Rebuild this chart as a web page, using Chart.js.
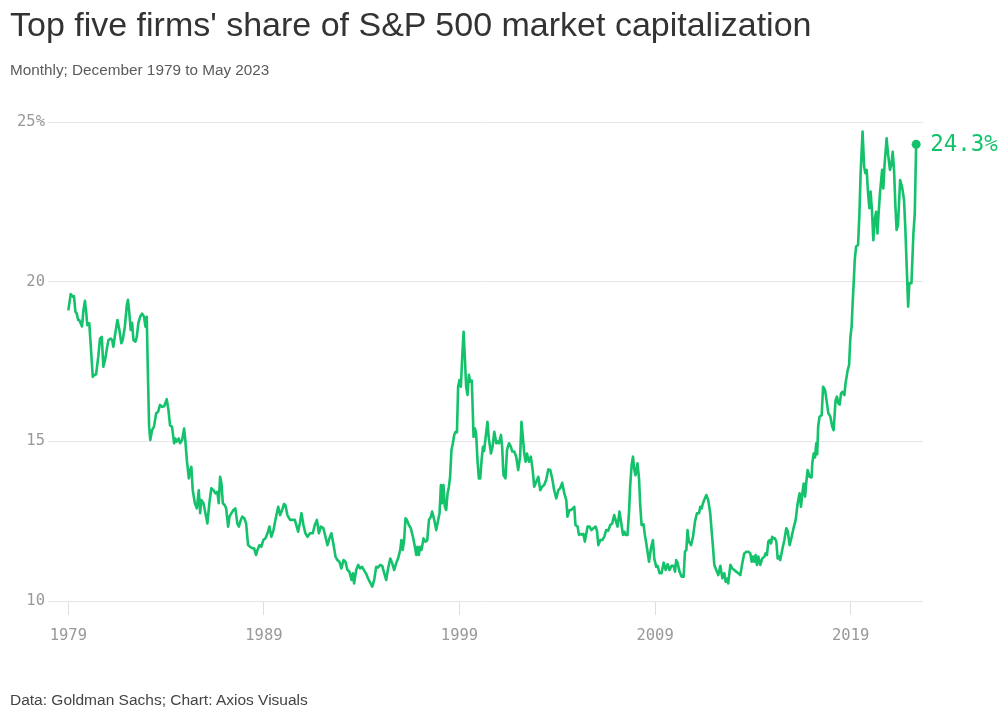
<!DOCTYPE html>
<html>
<head>
<meta charset="utf-8">
<script src="https://cdn.jsdelivr.net/npm/chart.js@4"></script>
<style>
  html, body { margin: 0; padding: 0; background: #fff; }
  #page { position: relative; width: 1003px; height: 716px; overflow: hidden; }
  #wrap { position: absolute; left: 0; top: 0; width: 1003px; height: 716px; }
  .txt { position: absolute; left: 10px; font-family: "Liberation Sans", Arial, sans-serif; white-space: nowrap; }
  #title { top: 5px; font-size: 34px; color: #333; letter-spacing: 0; }
  #subtitle { top: 61px; font-size: 15.3px; color: #5a5a5a; }
  #source { top: 691px; font-size: 15.5px; color: #444; }
</style>
</head>
<body>
<div id="page">
  <div id="wrap"><canvas id="chart"></canvas></div>
  <div class="txt" id="title">Top five firms' share of S&amp;P 500 market capitalization</div>
  <div class="txt" id="subtitle">Monthly; December 1979 to May 2023</div>
  <div class="txt" id="source">Data: Goldman Sachs; Chart: Axios Visuals</div>
</div>
<script>
// decimal year of each reading
const years = [
  1979.92, 1980.04, 1980.15, 1980.21, 1980.28, 1980.35, 1980.42, 1980.48, 1980.55, 1980.62,
  1980.69, 1980.77, 1980.83, 1980.89, 1980.99, 1981.07, 1981.17, 1981.23, 1981.34, 1981.45,
  1981.54, 1981.63, 1981.71, 1981.80, 1981.88, 1981.97, 1982.09, 1982.16, 1982.22, 1982.32,
  1982.43, 1982.53, 1982.63, 1982.70, 1982.81, 1982.91, 1982.97, 1983.04, 1983.11, 1983.18,
  1983.25, 1983.35, 1983.42, 1983.50, 1983.59, 1983.69, 1983.79, 1983.86, 1983.93, 1983.98,
  1984.05, 1984.11, 1984.20, 1984.30, 1984.41, 1984.51, 1984.61, 1984.71, 1984.82, 1984.95,
  1985.04, 1985.12, 1985.22, 1985.33, 1985.39, 1985.46, 1985.57, 1985.63, 1985.74, 1985.84,
  1985.90, 1985.98, 1986.08, 1986.15, 1986.21, 1986.28, 1986.39, 1986.49, 1986.59, 1986.66,
  1986.72, 1986.83, 1986.93, 1987.03, 1987.13, 1987.23, 1987.34, 1987.44, 1987.54, 1987.61,
  1987.68, 1987.75, 1987.82, 1987.92, 1987.99, 1988.09, 1988.16, 1988.26, 1988.36, 1988.46,
  1988.56, 1988.64, 1988.74, 1988.81, 1988.91, 1989.01, 1989.11, 1989.21, 1989.32, 1989.42,
  1989.52, 1989.59, 1989.69, 1989.79, 1989.89, 1990.00, 1990.13, 1990.20, 1990.30, 1990.41,
  1990.54, 1990.65, 1990.75, 1990.85, 1990.95, 1991.02, 1991.12, 1991.26, 1991.36, 1991.50,
  1991.67, 1991.77, 1991.84, 1991.94, 1992.04, 1992.15, 1992.28, 1992.42, 1992.52, 1992.63,
  1992.73, 1992.83, 1992.96, 1993.07, 1993.17, 1993.27, 1993.37, 1993.47, 1993.58, 1993.68,
  1993.78, 1993.88, 1993.99, 1994.09, 1994.19, 1994.29, 1994.40, 1994.47, 1994.53, 1994.64,
  1994.74, 1994.84, 1994.94, 1995.05, 1995.15, 1995.25, 1995.35, 1995.46, 1995.56, 1995.66,
  1995.76, 1995.86, 1995.97, 1996.07, 1996.17, 1996.27, 1996.38, 1996.48, 1996.58, 1996.68,
  1996.78, 1996.89, 1996.95, 1997.02, 1997.09, 1997.16, 1997.23, 1997.33, 1997.43, 1997.54,
  1997.64, 1997.71, 1997.77, 1997.84, 1997.91, 1997.98, 1998.08, 1998.18, 1998.27, 1998.36,
  1998.46, 1998.52, 1998.63, 1998.73, 1998.83, 1998.90, 1998.97, 1999.04, 1999.10, 1999.17,
  1999.24, 1999.31, 1999.38, 1999.44, 1999.51, 1999.58, 1999.65, 1999.72, 1999.79, 1999.85,
  1999.92, 1999.99, 2000.06, 2000.13, 2000.20, 2000.26, 2000.33, 2000.40, 2000.47, 2000.55,
  2000.64, 2000.71, 2000.77, 2000.84, 2000.91, 2000.98, 2001.05, 2001.12, 2001.18, 2001.25,
  2001.35, 2001.42, 2001.53, 2001.61, 2001.70, 2001.80, 2001.86, 2001.94, 2002.04, 2002.10,
  2002.17, 2002.27, 2002.35, 2002.45, 2002.55, 2002.62, 2002.72, 2002.82, 2002.92, 2003.02,
  2003.09, 2003.16, 2003.23, 2003.30, 2003.37, 2003.47, 2003.57, 2003.67, 2003.74, 2003.84,
  2003.95, 2004.05, 2004.15, 2004.25, 2004.35, 2004.46, 2004.56, 2004.66, 2004.76, 2004.87,
  2004.97, 2005.07, 2005.17, 2005.28, 2005.38, 2005.44, 2005.55, 2005.63, 2005.72, 2005.79,
  2005.85, 2005.96, 2006.03, 2006.13, 2006.20, 2006.26, 2006.33, 2006.40, 2006.47, 2006.57,
  2006.67, 2006.77, 2006.88, 2006.95, 2007.02, 2007.12, 2007.22, 2007.32, 2007.42, 2007.52,
  2007.63, 2007.73, 2007.83, 2007.93, 2008.00, 2008.10, 2008.18, 2008.28, 2008.35, 2008.41,
  2008.51, 2008.59, 2008.65, 2008.72, 2008.79, 2008.86, 2008.92, 2009.02, 2009.10, 2009.16,
  2009.23, 2009.33, 2009.40, 2009.51, 2009.61, 2009.71, 2009.81, 2009.88, 2009.98, 2010.05,
  2010.15, 2010.25, 2010.36, 2010.46, 2010.56, 2010.66, 2010.76, 2010.87, 2010.94, 2011.00,
  2011.07, 2011.17, 2011.28, 2011.38, 2011.45, 2011.52, 2011.58, 2011.65, 2011.76, 2011.86,
  2011.96, 2012.06, 2012.17, 2012.23, 2012.30, 2012.37, 2012.47, 2012.54, 2012.64, 2012.74,
  2012.81, 2012.88, 2012.95, 2013.05, 2013.15, 2013.26, 2013.36, 2013.46, 2013.53, 2013.60,
  2013.66, 2013.77, 2013.87, 2013.97, 2014.07, 2014.18, 2014.28, 2014.38, 2014.48, 2014.59,
  2014.69, 2014.79, 2014.86, 2014.92, 2014.99, 2015.06, 2015.13, 2015.20, 2015.30, 2015.40,
  2015.51, 2015.57, 2015.64, 2015.71, 2015.78, 2015.85, 2015.91, 2015.98, 2016.05, 2016.12,
  2016.19, 2016.26, 2016.32, 2016.42, 2016.53, 2016.63, 2016.70, 2016.80, 2016.90, 2017.00,
  2017.11, 2017.21, 2017.31, 2017.38, 2017.45, 2017.52, 2017.59, 2017.65, 2017.72, 2017.82,
  2017.92, 2017.96, 2018.03, 2018.10, 2018.16, 2018.21, 2018.26, 2018.33, 2018.44, 2018.51,
  2018.61, 2018.71, 2018.78, 2018.88, 2018.98, 2019.05, 2019.15, 2019.22, 2019.29, 2019.36,
  2019.43, 2019.50, 2019.60, 2019.66, 2019.77, 2019.84, 2019.91, 2019.97, 2020.02, 2020.08,
  2020.13, 2020.20, 2020.30, 2020.37, 2020.43, 2020.53, 2020.61, 2020.67, 2020.74, 2020.81,
  2020.88, 2020.94, 2021.01, 2021.08, 2021.15, 2021.22, 2021.29, 2021.35, 2021.42, 2021.53,
  2021.59, 2021.66, 2021.76, 2021.83, 2021.93, 2022.00, 2022.07, 2022.14, 2022.21, 2022.27,
  2022.34, 2022.45, 2022.55, 2022.65, 2022.72, 2022.78, 2022.86, 2022.92, 2023.03, 2023.13,
  2023.20, 2023.27
];

// top five share of market cap, percent
const share = [
  19.10, 19.61, 19.53, 19.55, 19.06, 19.00, 18.80, 18.80, 18.70, 18.60,
  19.10, 19.40, 19.06, 18.64, 18.70, 17.96, 17.02, 17.07, 17.10, 17.65,
  18.22, 18.27, 17.34, 17.55, 17.86, 18.17, 18.22, 18.17, 17.96, 18.38,
  18.80, 18.49, 18.07, 18.17, 18.59, 19.27, 19.43, 19.00, 18.49, 18.71,
  18.17, 18.12, 18.27, 18.70, 18.90, 19.00, 18.90, 18.59, 18.90, 17.34,
  15.46, 15.04, 15.35, 15.46, 15.88, 15.93, 16.14, 16.08, 16.10, 16.32,
  15.98, 15.50, 15.46, 14.94, 15.09, 14.99, 15.09, 14.94, 15.04, 15.40,
  15.04, 14.41, 13.84, 14.10, 14.20, 13.47, 13.06, 12.90, 13.47, 12.75,
  13.16, 13.06, 12.75, 12.43, 13.06, 13.53, 13.47, 13.37, 13.42, 13.06,
  13.89, 13.68, 13.06, 13.00, 12.90, 12.33, 12.64, 12.75, 12.85, 12.90,
  12.43, 12.33, 12.54, 12.64, 12.60, 12.43, 11.75, 11.70, 11.65, 11.65,
  11.44, 11.60, 11.75, 11.70, 11.91, 11.96, 12.17, 12.33, 12.01, 12.22,
  12.64, 12.95, 12.69, 12.85, 13.04, 13.00, 12.69, 12.54, 12.54, 12.54,
  12.17, 12.48, 12.75, 12.38, 12.12, 12.01, 12.12, 12.12, 12.38, 12.54,
  12.12, 12.33, 12.28, 12.01, 11.75, 11.96, 12.12, 11.80, 11.39, 11.28,
  11.23, 11.02, 11.28, 11.23, 10.97, 10.92, 10.66, 10.87, 10.55, 10.97,
  11.13, 11.02, 11.07, 10.95, 10.85, 10.70, 10.58, 10.45, 10.66, 11.07,
  11.05, 11.13, 11.10, 10.87, 10.66, 11.02, 11.33, 11.18, 10.97, 11.18,
  11.33, 11.60, 11.91, 11.60, 11.91, 12.59, 12.54, 12.38, 12.28, 12.01,
  11.70, 11.44, 11.70, 11.44, 11.70, 11.60, 11.96, 11.86, 11.90, 12.54,
  12.64, 12.80, 12.54, 12.22, 12.54, 12.75, 13.63, 13.06, 13.63, 12.95,
  12.85, 13.37, 13.58, 13.89, 14.73, 14.94, 15.20, 15.30, 15.28, 16.71,
  16.92, 16.71, 17.65, 18.43, 17.55, 16.71, 16.45, 17.08, 16.87, 16.90,
  15.14, 15.40, 15.25, 14.41, 13.84, 13.84, 14.41, 14.83, 14.70, 15.09,
  15.61, 15.09, 14.62, 14.83, 15.30, 14.94, 15.00, 14.94, 15.20, 14.83,
  13.94, 13.84, 14.73, 14.94, 14.83, 14.68, 14.68, 14.52, 14.10, 14.52,
  15.61, 15.14, 14.62, 14.36, 14.62, 14.36, 14.52, 14.05, 13.58, 13.73,
  13.89, 13.47, 13.58, 13.63, 13.79, 14.12, 14.10, 13.84, 13.47, 13.21,
  13.47, 13.53, 13.70, 13.37, 13.16, 12.64, 12.85, 12.85, 12.90, 12.95,
  12.38, 12.33, 12.07, 12.10, 12.07, 12.10, 11.86, 12.10, 12.33, 12.33,
  12.22, 12.28, 12.33, 12.20, 11.75, 11.91, 11.91, 12.01, 12.22, 12.20,
  12.38, 12.43, 12.69, 12.48, 12.33, 12.80, 12.48, 12.07, 12.17, 12.07,
  12.07, 12.80, 13.63, 14.26, 14.52, 14.10, 13.94, 14.31, 13.84, 13.00,
  12.38, 12.40, 12.07, 11.65, 11.23, 11.65, 11.91, 11.33, 11.07, 11.10,
  10.87, 10.87, 11.20, 10.97, 11.15, 10.97, 11.10, 11.10, 10.92, 11.28,
  11.20, 10.92, 10.76, 10.76, 11.55, 11.60, 12.22, 11.86, 11.75, 12.01,
  12.48, 12.75, 12.75, 12.95, 12.90, 13.06, 13.22, 13.32, 13.16, 12.75,
  12.22, 11.70, 11.13, 10.97, 10.81, 11.10, 10.71, 10.87, 10.60, 10.70,
  10.55, 11.13, 11.02, 10.97, 10.92, 10.87, 10.81, 11.18, 11.49, 11.54,
  11.54, 11.49, 11.23, 11.39, 11.23, 11.44, 11.13, 11.39, 11.13, 11.33,
  11.39, 11.49, 11.44, 11.86, 11.91, 11.80, 12.01, 11.96, 11.96, 11.86,
  11.33, 11.40, 11.28, 11.60, 11.90, 12.28, 12.20, 11.75, 12.00, 12.28,
  12.54, 13.06, 13.37, 12.95, 13.37, 13.68, 13.27, 13.70, 14.10, 13.89,
  13.87, 14.31, 14.62, 14.50, 14.94, 14.60, 15.46, 15.77, 15.82, 16.71,
  16.61, 16.19, 15.88, 15.78, 15.46, 15.35, 16.29, 16.40, 16.19, 16.15,
  16.50, 16.55, 16.45, 16.82, 17.23, 17.39, 18.28, 18.59, 19.30, 20.00,
  20.68, 21.10, 21.15, 22.14, 23.39, 24.70, 23.60, 23.40, 23.50, 22.77,
  22.30, 22.82, 22.24, 21.30, 21.93, 22.19, 21.51, 22.14, 22.77, 23.50,
  22.92, 23.71, 24.49, 24.02, 23.50, 23.65, 24.07, 23.50, 22.35, 21.62,
  21.77, 23.18, 22.97, 22.56, 21.62, 20.58, 19.22, 19.95, 19.95, 21.51,
  22.14, 24.30
];

// x axis ticks sit on each December, starting with the first reading
const xTickYears = [1979.92, 1989.92, 1999.92, 2009.92, 2019.92];
const xTickLabels = ['1979', '1989', '1999', '2009', '2019'];
const yTicks = [10, 15, 20, 25];

const GREEN = '#13c26b';
const MONO = '"DejaVu Sans Mono", "Liberation Mono", monospace';

const lastLabel = {
    id: 'lastLabel',
    afterDatasetsDraw(chart) {
        const meta = chart.getDatasetMeta(0);
        const pt = meta.data[meta.data.length - 1];
        if (!pt) {
            return;
        }
        const ctx = chart.ctx;
        ctx.save();
        ctx.font = '22.5px ' + MONO;
        ctx.fillStyle = GREEN;
        ctx.textAlign = 'left';
        ctx.textBaseline = 'middle';
        ctx.fillText(share[share.length - 1].toFixed(1) + '%', pt.x + 14, pt.y + 1);
        ctx.restore();
    }
};

const points = years.map((y, i) => ({ x: y, y: share[i] }));

new Chart(document.getElementById('chart'), {
    type: 'line',
    data: {
        datasets: [{
            data: points,
            borderColor: GREEN,
            backgroundColor: GREEN,
            borderWidth: 2.6,
            borderJoinStyle: 'round',
            tension: 0,
            pointRadius: ctx => ctx.dataIndex === share.length - 1 ? 4.5 : 0,
            pointHoverRadius: 0,
            pointBorderWidth: 0,
            clip: false
        }]
    },
    options: {
        responsive: true,
        maintainAspectRatio: false,
        animation: false,
        events: [],
        layout: {
            autoPadding: false,
            padding: { top: 122, right: 80, bottom: 70, left: 0 }
        },
        plugins: {
            legend: { display: false },
            tooltip: { enabled: false }
        },
        scales: {
            x: {
                type: 'linear',
                min: 1978.88,
                max: 2023.62,
                afterFit: scale => { scale.height = 45; },
                afterBuildTicks: scale => {
                    scale.ticks = xTickYears.map(v => ({ value: v }));
                },
                border: { display: false },
                grid: {
                    drawOnChartArea: false,
                    drawTicks: true,
                    tickLength: 14,
                    color: '#dedede'
                },
                ticks: {
                    autoSkip: false,
                    maxRotation: 0,
                    padding: 12,
                    color: '#999',
                    font: { family: MONO, size: 15.5 },
                    callback: (v, i) => xTickLabels[i]
                }
            },
            y: {
                min: 10,
                max: 25,
                afterFit: scale => { scale.width = 48; },
                afterBuildTicks: scale => {
                    scale.ticks = yTicks.map(v => ({ value: v }));
                },
                border: { display: false },
                grid: {
                    drawTicks: false,
                    color: '#e6e6e6',
                    lineWidth: 1
                },
                ticks: {
                    padding: 3,
                    color: '#999',
                    font: { family: MONO, size: 15.5 },
                    callback: v => v === 25 ? v + '%' : v
                }
            }
        }
    },
    plugins: [lastLabel]
});
</script>
</body>
</html>
